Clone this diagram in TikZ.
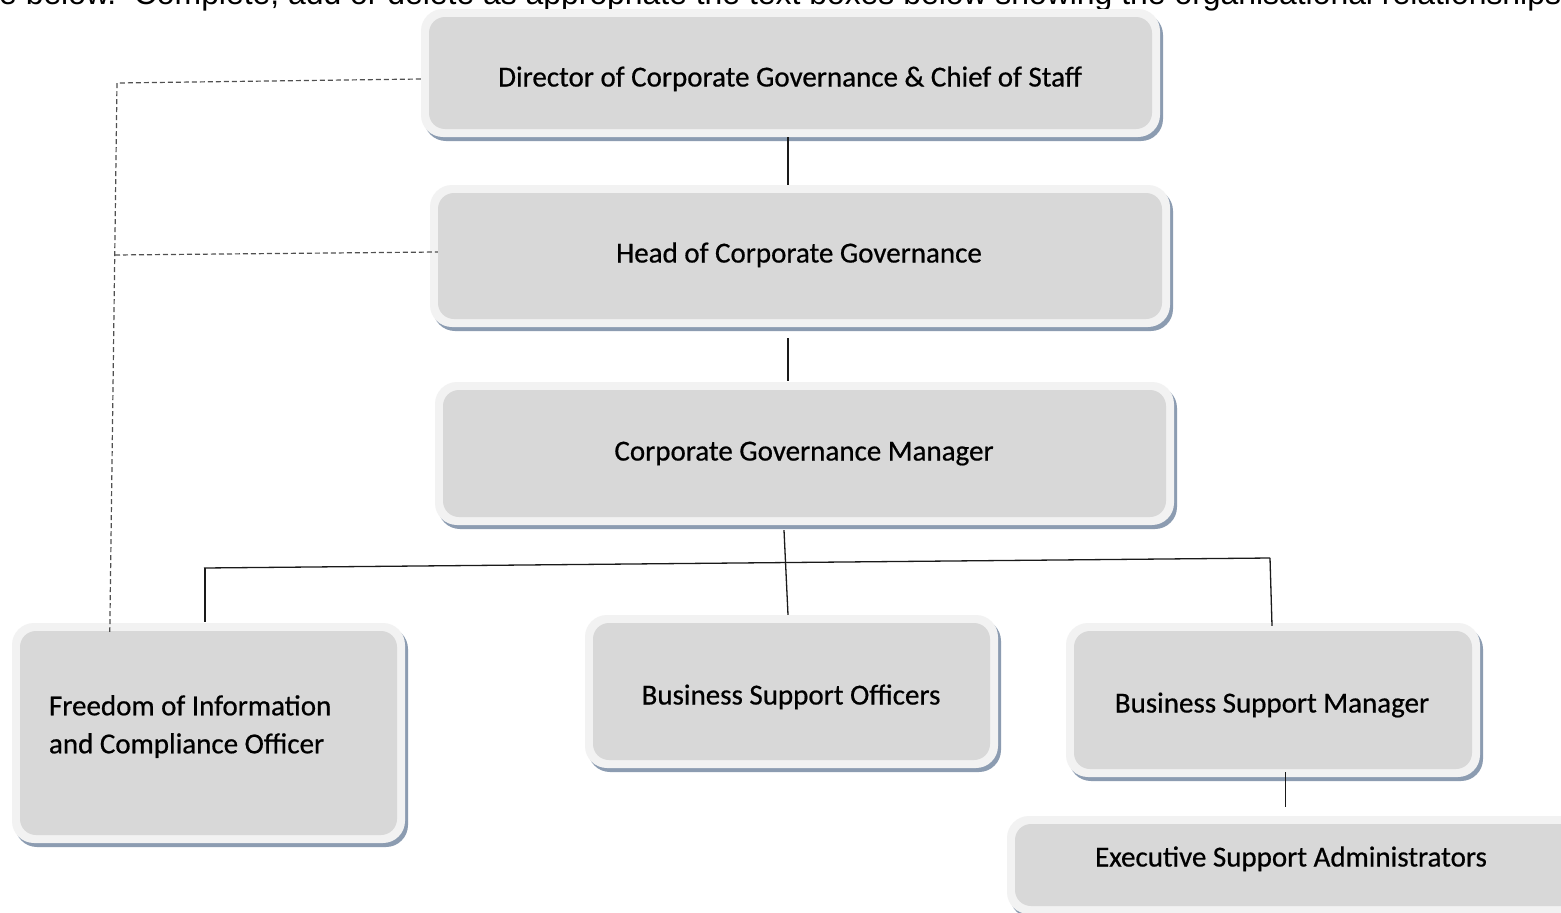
\documentclass[tikz,border=0pt]{standalone}
\usepackage{graphicx}
\usepackage{fontspec}
\setmainfont{Carlito}
\newfontfamily\boxfont{Carlito}[FakeBold=0.6]
\newfontfamily\arialfont{Liberation Sans}
\usetikzlibrary{shadows,calc}
\definecolor{boxouter}{HTML}{F2F2F2}
\definecolor{boxinner}{HTML}{D8D8D8}
\definecolor{boxshadow}{HTML}{8C9CB1}
\definecolor{linecol}{HTML}{1A1A1A}
\definecolor{dashcol}{HTML}{505050}
\tikzset{
  orgbox/.style={rectangle, rounded corners=22pt, fill=boxouter, draw=none, inner sep=0pt,
    drop shadow={shadow xshift=3pt, shadow yshift=-4pt, fill=boxshadow, opacity=1},
    path picture={\fill[boxinner, rounded corners=16pt]
      ([xshift=8pt,yshift=8pt]path picture bounding box.south west) rectangle
      ([xshift=-8pt,yshift=-8pt]path picture bounding box.north east);}},
  boxtext/.style={font=\boxfont\fontsize{29}{38}\selectfont, text=black, inner sep=0pt},
  solidline/.style={draw=linecol, line width=1.3pt},
  thickline/.style={draw=linecol, line width=2pt},
  dashline/.style={draw=dashcol, line width=1.2pt, dash pattern=on 5pt off 3pt},
}
\begin{document}
\begin{tikzpicture}[x=1pt,y=-1pt]
\useasboundingbox (0,0) rectangle (1561,913);
\clip (0,0) rectangle (1561,913);
\fill[white] (0,0) rectangle (1561,913);

\node[anchor=base west, inner sep=0pt] (intro) at (-1,4)
  {\resizebox{1562pt}{!}{\arialfont\fontsize{28}{30}\selectfont e below.\ \ Complete, add or delete as appropriate the text boxes below showing the organisational relationships}};

% boxes
\node[orgbox, minimum width=739pt, minimum height=128pt] (b1) at (790.5,73) {};
\node[orgbox, minimum width=740pt, minimum height=142pt] (b2) at (800,256) {};
\node[orgbox, minimum width=739pt, minimum height=143pt] (b3) at (804.5,453.5) {};
\node[orgbox, minimum width=393pt, minimum height=220pt] (b4) at (208.5,733) {};
\node[orgbox, minimum width=413pt, minimum height=153pt] (b5) at (791.5,691.5) {};
\node[orgbox, minimum width=414pt, minimum height=154pt] (b6) at (1273,700) {};
\node[orgbox, minimum width=593pt, minimum height=98pt] (b7) at (1303.5,865) {};

% texts
\node[boxtext, anchor=base] (t1) at ($(b1.center)+(-0.5,13.5)$) {Director of Corporate Governance \& Chief of Staff};
\node[boxtext, anchor=base] (t2) at ($(b2.center)+(-1,6.5)$) {Head of Corporate Governance};
\node[boxtext, anchor=base] (t3) at ($(b3.center)+(-0.5,7)$) {Corporate Governance Manager};
\node[boxtext, anchor=base west, align=left] (t4) at ($(b4.north west)+(37,130.5)$) {Freedom of Information\\and Compliance Officer};
\node[boxtext, anchor=base] (t5) at ($(b5.center)+(-0.5,13)$) {Business Support Officers};
\node[boxtext, anchor=base] (t6) at ($(b6.center)+(-1,12.5)$) {Business Support Manager};
\node[boxtext, anchor=base] (t7) at ($(b7.center)+(-12.5,1.5)$) {Executive Support Administrators};

% solid connectors
\coordinate (v1) at (788,0);
\coordinate (jl) at (204,568);
\coordinate (jr) at (1270,558);
\draw[thickline] (b1.south -| v1) -- (b2.north -| v1);
\draw[thickline] ($(b2.south -| v1)+(0,11)$) -- ($(b3.north -| v1)+(0,-1)$);
\draw[solidline] ($(b3.south)+(-20.5,5)$) -- (b5.north -| v1);
\draw[solidline] (jl) -- (jr);
\draw[solidline] ($(jl)+(1,0)$) -- ($(b4.north -| jl)+(1,-1)$);
\draw[solidline] (jr) -- ($(b6.north)+(-1,3)$);
\draw[solidline, line width=1pt] ($(b6.south)+(12,-5)$) -- ($(b7.north -| b6.south)+(12,-9)$);

% dashed connectors
\coordinate (d1) at (117,83);
\coordinate (d2) at (115,255);
\coordinate (d3) at ($(b4.north west)+(98,9)$);
\draw[dashline] ($(b1.west)+(0,6)$) -- (d1) -- (d3);
\draw[dashline] (d2) -- ($(b2.west)+(8,-4)$);
\end{tikzpicture}
\end{document}
